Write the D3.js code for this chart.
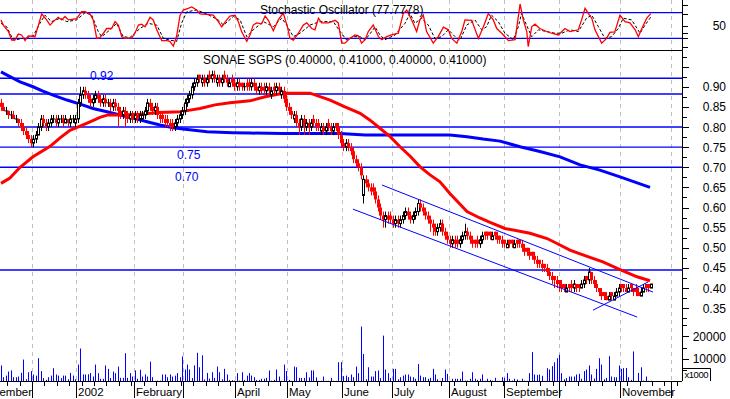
<!DOCTYPE html>
<html><head><meta charset="utf-8">
<script src="https://cdn.jsdelivr.net/npm/d3@7"></script>
<style>body{margin:0;background:#fff;} svg{display:block;font-family:"Liberation Sans",Arial,sans-serif;}</style>
</head><body><svg id="c" width="730" height="399"></svg>
<script>
// ---- data (prices in cents, volume in thousands) ----
const openC = [86,85,84,84,83,83,82,82,81,80, 79,78,77,76,77,78,80,82,81,80, 81,82,82,81,82,82,81,82,81,82, 81,82,86,88,89,88,87,86,87,88, 87,86,87,86,86,85,86,85,84,83, 84,83,82,83,82,83,82,82,83,84, 86,85,84,85,83,83,82,82,81,81, 80,81,82,83,84,86,87,88,90,91, 93,91,92,91,93,92,93,91,92,91, 93,92,90,92,91,90,91,91,90,91, 91,90,91,90,89,90,90,89,90,88, 90,89,90,88,89,87,85,84,82,83, 81,80,82,80,81,80,82,81,81,79, 80,79,81,80,79,81,80,78,76,75, 76,75,74,72,71,70,63,67,66,65, 65,64,62,60,58,57,58,58,57,56, 57,56,57,58,59,58,57,58,59,61, 60,59,58,57,56,55,54,55,56,54, 53,52,51,52,52,51,52,53,54,53, 52,52,52,51,52,54,54,54,52,54, 53,53,52,52,50,52,52,50,52,52, 51,50,50,49,49,48,47,47,46,46, 45,44,43,43,42,42,41,41,39,41, 41,40,41,41,40,41,43,42,44,42, 41,40,39,39,38,37,39,37,38,39, 41,41,40,39,41,40,40,39,38,39, 41,41,40];
const highC = [87,86,85,84,84,84,83,82,82,81, 80,79,78,78,79,81,83,83,82,82, 83,83,83,83,83,83,83,82,83,83, 83,87,90,90,90,89,88,88,89,89, 88,88,88,87,87,87,87,86,85,85, 85,84,84,84,84,84,84,84,85,87, 87,86,86,86,84,84,83,83,82,82, 82,83,84,85,87,88,89,91,92,93, 93,93,93,93,94,94,94,93,93,93, 94,93,92,93,92,92,92,91,91,92, 92,92,92,91,91,91,91,91,91,90, 91,91,91,90,90,88,86,85,84,84, 82,83,83,82,82,82,83,82,82,81, 81,81,82,81,81,81,81,79,77,77, 77,76,75,73,72,71,68,68,67,66, 66,65,63,61,59,59,59,59,58,58, 58,58,59,60,60,59,59,60,62,62, 61,60,59,58,57,56,56,57,57,55, 54,53,53,53,53,53,54,56,55,54, 53,52,53,53,54,54,54,54,54,54, 54,53,53,52,52,52,52,52,52,52, 52,51,50,50,49,49,48,47,47,46, 46,45,44,43,43,42,42,41,41,41, 42,42,41,41,42,43,43,45,44,43, 42,40,40,39,39,39,39,39,40,41, 41,41,41,41,41,40,41,40,40,41, 41,41,41];
const lowC = [84,84,83,82,82,82,81,80,79,78, 77,76,75,75,76,78,79,80,79,79, 80,81,80,80,81,80,81,80,80,81, 80,81,85,87,87,86,85,85,86,86, 85,85,85,85,84,84,84,80,82,82, 80,81,81,81,81,81,81,82,82,83, 84,83,83,82,81,81,80,80,79,79, 79,80,81,82,83,85,86,87,89,90, 91,90,90,90,91,91,91,90,90,90, 91,90,90,90,89,89,89,89,89,89, 89,89,89,88,88,88,88,88,88,87, 88,88,88,87,86,84,83,82,81,80, 78,79,78,79,78,79,80,79,79,78, 78,78,79,78,78,79,77,75,74,74, 74,73,71,70,69,67,61,65,64,63, 63,61,59,57,55,55,56,56,55,55, 55,55,56,57,57,56,56,57,58,59, 58,57,56,54,53,53,53,54,53,52, 51,50,50,50,50,50,51,52,52,51, 50,50,50,50,51,52,52,52,52,52, 51,51,50,50,50,50,50,50,50,50, 49,48,48,47,47,46,45,45,44,44, 43,42,41,40,40,39,39,39,39,39, 39,39,39,39,40,40,41,41,41,40, 39,38,37,37,37,37,37,37,38,38, 39,39,39,39,39,38,38,38,38,39, 39,39,40];
const closeC = [85,84,84,83,83,82,82,81,80,79, 78,77,76,77,78,80,82,81,80,81, 82,82,81,82,82,81,82,81,82,82, 82,86,88,89,88,87,86,87,88,87, 86,87,86,86,85,86,85,84,83,84, 83,82,83,82,83,82,83,83,84,86, 85,84,85,83,82,82,81,81,80,80, 81,82,83,84,86,87,88,90,91,92, 92,92,91,92,92,93,92,92,91,92, 92,91,91,91,90,91,90,90,90,90, 90,91,90,89,90,89,89,90,89,89, 89,90,89,89,87,85,84,83,83,81, 80,82,80,81,80,81,81,80,80,80, 79,80,80,79,80,80,78,76,75,76, 75,74,72,71,70,68,67,66,65,64, 64,62,60,58,57,58,57,57,56,57, 56,57,58,59,58,57,58,59,61,60, 59,58,57,56,55,54,55,56,54,53, 52,51,52,51,51,52,53,54,53,52, 51,51,51,52,53,53,53,53,53,53, 52,52,51,51,51,51,51,51,51,51, 50,49,49,48,48,47,46,46,45,45, 44,43,42,42,41,41,40,40,40,40, 40,41,40,40,41,42,42,44,42,41, 40,39,38,38,37,38,38,38,39,40, 40,40,39,40,40,39,39,38,39,40, 40,40,41];
const volume = [7100,1900,2600,4400,4900,1900,1900,2200,3800,9700, 1000,4100,4600,3100,2600,10300,4600,1500,700,1900, 2600,5900,3100,2600,1500,2600,2600,1000,3800,2600, 1000,7500,14600,3100,3100,3200,3700,2200,7500,3700, 1200,1200,7100,5600,1500,4400,3700,6600,1600,1600, 12500,1600,3700,2200,4900,1200,5200,2200,3100,2200, 8800,1900,300,400,400,3100,3100,1900,3100,2200, 2600,3700,1900,11100,5300,7500,5300,1500,7100,12700, 6300,11600,900,3800,1300,4100,1600,6600,4100,1000, 5600,3100,600,600,400,3700,400,4100,700,2600, 3700,2600,1900,700,700,1200,1200,1600,4900,400, 700,5300,2200,300,7500,4600,700,300,6600,6300, 1600,1600,1600,4100,1800,4900,4900,1800,300,300, 2200,300,300,1600,300,300,8500,8500,2400,2600, 1900,3100,1900,6600,3700,24300,12200,1000,6300,2200, 2200,4600,4900,1500,20300,5300,3700,1500,5600,5600, 1000,1900,2600,3100,3100,2200,1900,1200,7700,2600, 1900,1900,1200,1600,5600,3100,1000,300,1600,5300, 3400,300,1200,1200,1200,1200,4400,400,400,1200, 4100,1200,700,1200,3100,300,1200,700,400,1600, 300,300,1900,1600,3700,1200,400,1200,900,300, 1200,400,300,3700,13000,3100,2900,3100,2500,300, 5900,5300,6800,8500,10300,11800,3700,1000,1500,2200, 2200,2200,3100,3400,1200,4600,5300,7100,3100,1300, 5600,10300,7500,1000,1600,11200,2200,1900,1900,7100, 5600,5900,6000,1900,700,13300,300,3800,6300,400, 2200,300,300];

// stochastic %K (red) and %D (black dashed): [day index, value]
const stochKDay = [0,0.9,3,4.3,5.6,7,8.3,9.7,11,12.4,13.7,15.1,16.4,18.4,19.8,21.1,23.1,24.5,25.8,27.2,28.5,30.5,32.5,33.9,35.9,37.2,38.6,39.9,41.3,42.6,44.6,46,47.3,48.7,50,52.7,54,55.4,56.7,58.1,60.1,61.4,62.8,64.8,66.8,68.1,69.5,70.8,72.2,73.5,75.5,76.9,78.9,80.2,82.9,85.6,87.6,89,91,92.3,94.4,95.7,97,99.1,100.4,101.7,103.1,105.1,106.5,107.8,109.8,111.8,113.8,115.5,116.5,117.9,119.9,121.9,123.3,125.3,126.6,128,129.3,132,134.7,136,137.4,138.7,140.7,142.7,144.1,145.4,146.8,148.1,150.1,152.2,153.5,155.5,157.5,160.2,162.2,163.6,165.6,167.6,168.9,170.3,171.6,174.3,176.3,178.4,180.4,181.7,183.8,185.8,187.1,189.8,192.5,194.5,196.5,198.5,199.9,201.9,204.6,207.3,209.3,210.6,212,212.6,214,215.3,217.3,220,222,224.7,227.4,229.4,232.8,234.1,235.5,236.8,238.2,239.5,242.2,244.2,245.5,247.5,249.6,251.6,253.6,255.7,257,258.4,260.4,262];
const stochKVal = [63,51,36,16,16,30,28,15,26,25,24,51,77,63,51,59,69,63,71,63,64,66,82,82,77,63,20,22,32,43,43,59,51,24,20,21,32,51,53,47,69,63,40,15,15,13,2,25,74,86,90,93,86,77,76,74,59,47,63,72,74,59,36,13,28,51,56,54,72,62,38,63,79,47,20,16,32,51,56,43,40,67,56,56,62,56,9,9,20,28,26,9,17,36,51,24,17,24,28,32,78,86,63,36,63,74,36,9,24,46,40,20,9,36,63,62,20,47,78,63,43,32,15,17,100,63,36,1,47,53,43,36,32,28,43,36,40,63,90,78,67,40,9,20,34,35,74,59,56,40,24,43,67,77.78];
const stochDDay = [0,2.3,5,9,13,15.7,17.7,20.4,23.8,26.5,30.5,33.9,36.6,39.2,40.6,44,46.6,49.3,52,56,59.4,62.8,65.5,68.1,70.8,72.8,74.9,78.9,82.9,87.6,89.7,93.7,96.4,99.1,101.7,105.8,109.8,113.2,115.2,117.9,120.6,124.6,128.6,134,136.7,139.4,142.1,144.8,146.8,149.5,150.8,152.8,154.8,158.9,162.9,164.9,166.9,169.6,172.3,175,177.7,180.4,183.1,185.1,187.8,191.1,193.8,195.8,197.8,200.5,203.2,206.6,208.6,209.9,211.9,214,216.7,220,223.4,226.1,229.4,232.8,236.1,238.2,240.9,243.5,246.2,248.9,250.9,254.3,257.7,259.7,261.7,262];
const stochDVal = [55,47,16,20,26,55,74,59,67,59,63,80,74,36,24,40,55,24,22,43,55,51,20,16,13,55,82,86,77,63,51,71,63,24,40,59,47,67,51,24,32,51,59,59,36,16,24,24,16,36,47,28,17,28,55,78,55,67,51,20,24,40,24,16,51,63,40,47,74,59,32,17,47,78,51,24,40,36,32,32,40,36,67,74,47,20,24,43,67,63,32,51,67,70];

// moving averages: [day index, value]
const maRedDay = [0,3.6,7.7,12.9,19.8,23.8,27.8,31.9,35.9,39.9,43.1,48,56,64.1,72.2,76.2,80.2,86.3,92.3,100.4,106.5,113.7,124.6,132.7,138.7,144.8,148.8,152.8,156.9,160.9,164.9,169,173,177,181,187.9,193.1,197.2,203.2,213.3,220.2,225.4,229.4,237.5,242.7,249.6,256.5,261.7];
const maRedVal = [0.660,0.673,0.700,0.726,0.752,0.773,0.792,0.802,0.813,0.824,0.830,0.830,0.832,0.836,0.838,0.842,0.846,0.855,0.860,0.865,0.875,0.884,0.884,0.867,0.850,0.834,0.817,0.797,0.776,0.751,0.728,0.701,0.681,0.664,0.635,0.590,0.574,0.563,0.548,0.536,0.523,0.507,0.494,0.476,0.465,0.446,0.428,0.418];
const maBlueDay = [0,3.6,7.7,12.9,16.9,21,26.6,31.9,37.1,42.7,48,53.2,58.9,64.1,69.4,73.4,83.1,93.5,100.4,113.7,136.7,146.8,167.7,181,187.9,194.4,201.2,209.3,217.3,225.4,233.5,241.5,249.6,261.7];
const maBlueVal = [0.937,0.925,0.912,0.900,0.889,0.879,0.867,0.857,0.846,0.838,0.830,0.822,0.813,0.805,0.798,0.795,0.788,0.786,0.785,0.784,0.784,0.780,0.780,0.780,0.776,0.770,0.765,0.751,0.739,0.726,0.706,0.693,0.676,0.650];

const levels = [0.921,0.882,0.80,0.75,0.70,0.445];
const levelText = ["0.92","0.75","0.70"];
const levelTextDay = [35.9,71.0,70.2];
const levelTextVal = [0.918,0.720,0.667];
// trend lines: day1, value1, day2, value2
const trendLines = [[153.6,0.656,262.9,0.390],[141.9,0.596,256.5,0.328],[238.7,0.345,260.9,0.415]];

const monthDay = [-9.5,12.5,30.2,53.6,73.4,94.4,115.3,137.5,157.7,180.6,202.8,225.0,249.6,270.2];
const monthLabels = ["November","","2002","February","","April","May","June","July","August","September","","November",""];
const priceLabels = [0.35,0.40,0.45,0.50,0.55,0.60,0.65,0.70,0.75,0.80,0.85,0.90];
const volumeLabels = [10000,20000];
const stochLabels = [50];
const titleText = "SONAE SGPS (0.40000, 0.41000, 0.40000, 0.41000)";
const stochTitle = "Stochastic Oscillator (77.7778)";

// ---- drawing ----
const svg = d3.select("#c");
const W = 682, BOT = 381;
const x = d3.scaleLinear().domain([0,275]).range([1,683]);
const yP = d3.scaleLinear().domain([0.30,1.0]).range([328.3,46.5]);
const yV = d3.scaleLinear().domain([0,30000]).range([381.5,313.7]);
const yS = d3.scaleLinear().domain([0,100]).range([47,4]);
const RED="#ff0000", BLUE="#0000ff";

const defs = svg.append("defs");
defs.append("clipPath").attr("id","cp").append("rect").attr("x",0).attr("y",51).attr("width",W).attr("height",BOT-51);
defs.append("clipPath").attr("id","cs").append("rect").attr("x",0).attr("y",0).attr("width",W).attr("height",50);
defs.append("clipPath").attr("id","ca").append("rect").attr("x",0).attr("y",0).attr("width",W).attr("height",BOT);

// month gridlines
svg.append("g").attr("clip-path","url(#ca)").selectAll("line").data(monthDay).join("line")
  .attr("x1",d=>Math.round(x(d))+0.5).attr("x2",d=>Math.round(x(d))+0.5).attr("y1",0).attr("y2",BOT)
  .attr("stroke","#c0c0c0").attr("stroke-dasharray","4,4");

// stochastic panel
const gs = svg.append("g").attr("clip-path","url(#cs)");
gs.selectAll("line.lv").data([80,20]).join("line").attr("class","lv")
  .attr("x1",0).attr("x2",W).attr("y1",d=>yS(d)).attr("y2",d=>yS(d)).attr("stroke",BLUE).attr("stroke-width",1.4);
const kPts = stochKDay.map((d,i)=>[d,stochKVal[i]]);
const dPts = stochDDay.map((d,i)=>[d,stochDVal[i]]);
const sl = d3.line().x(d=>x(d[0])).y(d=>yS(d[1]));
gs.append("path").datum(dPts).attr("d",sl).attr("fill","none").attr("stroke","#000").attr("stroke-width",1).attr("stroke-dasharray","3,2");
gs.append("path").datum(kPts).attr("d",sl).attr("fill","none").attr("stroke",RED).attr("stroke-width",1.3);
svg.append("text").attr("x",260).attr("y",13.5).attr("font-size",12).text(stochTitle);

// separator
svg.append("line").attr("x1",0).attr("x2",W).attr("y1",50.5).attr("y2",50.5).attr("stroke","#000");

// price panel
const gp = svg.append("g").attr("clip-path","url(#cp)");
gp.selectAll("line.lv").data(levels).join("line").attr("class","lv")
  .attr("x1",0).attr("x2",W).attr("y1",d=>yP(d)).attr("y2",d=>yP(d)).attr("stroke",BLUE).attr("stroke-width",1.4);

// volume
gp.selectAll("line.vol").data(volume).join("line").attr("class","vol")
  .attr("x1",(d,i)=>Math.round(x(i))+0.5).attr("x2",(d,i)=>Math.round(x(i))+0.5)
  .attr("y1",yV(0)).attr("y2",d=>yV(d)).attr("stroke",BLUE).attr("stroke-width",1);

// moving averages
const ml = d3.line().x(d=>x(d[0])).y(d=>yP(d[1]));
gp.append("path").datum(maBlueDay.map((d,i)=>[d,maBlueVal[i]])).attr("d",ml).attr("fill","none").attr("stroke",BLUE).attr("stroke-width",3);
gp.append("path").datum(maRedDay.map((d,i)=>[d,maRedVal[i]])).attr("d",ml).attr("fill","none").attr("stroke",RED).attr("stroke-width",3);

// candles
const cg = gp.append("g");
closeC.forEach((c,i)=>{
  const o=openC[i]/100, cl=c/100, h=highC[i]/100, l=lowC[i]/100;
  const cx = Math.round(x(i))+0.5;
  const down = cl<o, up = cl>o;
  const col = down?RED:"#000";
  cg.append("line").attr("x1",cx).attr("x2",cx).attr("y1",yP(h)).attr("y2",yP(l)).attr("stroke",col).attr("stroke-width",1);
  if(down){
    cg.append("rect").attr("x",cx-1.5).attr("y",yP(o)).attr("width",3).attr("height",Math.max(1,yP(cl)-yP(o))).attr("fill",RED);
  } else if(up){
    cg.append("rect").attr("x",cx-1).attr("y",yP(cl)).attr("width",2).attr("height",Math.max(1,yP(o)-yP(cl))).attr("fill","#fff").attr("stroke","#000").attr("stroke-width",1);
  } else {
    cg.append("line").attr("x1",cx-2).attr("x2",cx+2).attr("y1",yP(cl)).attr("y2",yP(cl)).attr("stroke","#000");
  }
});

// trend lines
gp.selectAll("line.tr").data(trendLines).join("line").attr("class","tr")
  .attr("x1",d=>x(d[0])).attr("y1",d=>yP(d[1])).attr("x2",d=>x(d[2])).attr("y2",d=>yP(d[3]))
  .attr("stroke",BLUE).attr("stroke-width",1);

// level labels and title
svg.selectAll("text.lt").data(levelText).join("text").attr("class","lt")
  .attr("x",(d,i)=>x(levelTextDay[i])).attr("y",(d,i)=>yP(levelTextVal[i])).attr("fill",BLUE).attr("font-size",12).text(d=>d);
svg.append("text").attr("x",203).attr("y",64).attr("font-size",12).text(titleText);

// right axis
const ax = svg.append("g");
ax.append("line").attr("x1",W+0.5).attr("x2",W+0.5).attr("y1",0).attr("y2",BOT).attr("stroke","#000");
const pt = d3.range(13,40).map(k=>k*0.025).filter(v=>yP(v)>52 && yP(v)<326);
ax.selectAll("line.pt").data(pt).join("line").attr("class","pt")
  .attr("x1",W).attr("x2",d=>W+ (Math.abs(d*20-Math.round(d*20))<1e-6?7:5)).attr("y1",d=>Math.round(yP(d))+0.5).attr("y2",d=>Math.round(yP(d))+0.5).attr("stroke","#000");
ax.selectAll("text.pl").data(priceLabels).join("text").attr("class","pl")
  .attr("x",726).attr("y",d=>yP(d)+4.5).attr("text-anchor","end").attr("font-size",12).text(d=>d.toFixed(2));
const vt = [5000,10000,15000,20000,25000];
ax.selectAll("line.vt").data(vt).join("line").attr("class","vt")
  .attr("x1",W).attr("x2",d=>W+(d%10000===0?7:5)).attr("y1",d=>Math.round(yV(d))+0.5).attr("y2",d=>Math.round(yV(d))+0.5).attr("stroke","#000");
ax.selectAll("text.vl").data(volumeLabels).join("text").attr("class","vl")
  .attr("x",726).attr("y",d=>yV(d)+4.5).attr("text-anchor","end").attr("font-size",12).text(d=>d);
const st = [0,20,33,50,77,98];
ax.selectAll("line.st").data(st).join("line").attr("class","st")
  .attr("x1",W).attr("x2",W+6).attr("y1",d=>Math.round(yS(d))+0.5).attr("y2",d=>Math.round(yS(d))+0.5).attr("stroke","#000");
ax.selectAll("text.sl").data(stochLabels).join("text").attr("class","sl")
  .attr("x",726).attr("y",d=>yS(d)+4.5).attr("text-anchor","end").attr("font-size",12).text(d=>d);
// x1000 box
ax.append("path").attr("d",`M${W+0.5},368.5 H710.5 V${BOT}`).attr("fill","none").attr("stroke","#000");
ax.append("text").attr("x",684.5).attr("y",378).attr("font-size",9.5).attr("textLength",24).text("x1000");

// bottom axis
const bx = svg.append("g");
bx.append("line").attr("x1",0).attr("x2",W).attr("y1",BOT+0.5).attr("y2",BOT+0.5).attr("stroke","#000");
const wk = d3.range(2.5,273,5);
bx.selectAll("line.wk").data(wk).join("line").attr("class","wk")
  .attr("x1",d=>Math.round(x(d))+0.5).attr("x2",d=>Math.round(x(d))+0.5).attr("y1",BOT).attr("y2",BOT+5).attr("stroke","#000");
bx.selectAll("line.mt").data(monthDay).join("line").attr("class","mt")
  .attr("x1",d=>Math.round(x(d))+0.5).attr("x2",d=>Math.round(x(d))+0.5).attr("y1",BOT).attr("y2",BOT+17).attr("stroke","#000");
bx.selectAll("text.ml").data(monthLabels).join("text").attr("class","ml")
  .attr("x",(d,i)=>Math.round(x(monthDay[i]))+2).attr("y",396).attr("font-size",11.5).text(d=>d);
</script></body></html>
